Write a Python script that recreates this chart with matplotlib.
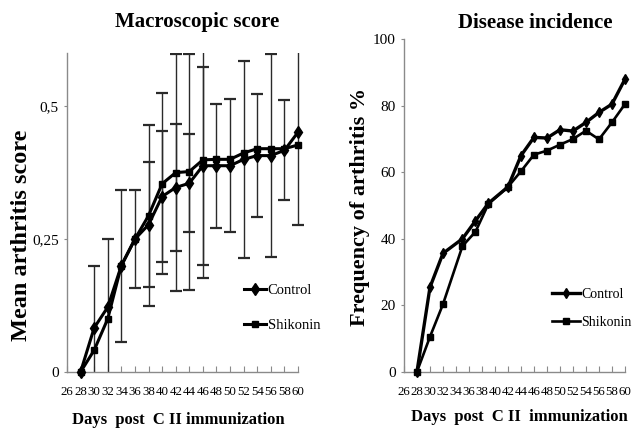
import numpy as np
import matplotlib
matplotlib.use("Agg")
import matplotlib.pyplot as plt
from matplotlib.transforms import Bbox, TransformedBbox

# ---------------- data ----------------
day_ticks = [26, 28, 30, 32, 34, 36, 38, 40, 42, 44, 46, 48, 50, 52, 54, 56, 58, 60]
day_tick_labels = [str(d) for d in day_ticks]

# left panel: macroscopic score
score_days = [28, 30, 32, 34, 36, 38, 40, 42, 44, 46, 48, 50, 52, 54, 56, 58, 60]
score_control = [0, 0.083, 0.122, 0.200, 0.250, 0.277, 0.330, 0.347, 0.355, 0.388,
                 0.388, 0.388, 0.400, 0.407, 0.407, 0.417, 0.451]
score_shikonin = [0, 0.041, 0.100, 0.200, 0.250, 0.294, 0.354, 0.375, 0.377, 0.399,
                  0.400, 0.400, 0.412, 0.420, 0.420, 0.420, 0.427]
err_control = [np.nan, 0.117, 0.128, 0.143, 0.092, 0.118, 0.123, 0.120, 0.092, 0.186,
               0.117, 0.125, 0.185, 0.116, 0.191, 0.094, 0.174]
err_shikonin = [np.nan, np.nan, np.nan, np.nan, np.nan, 0.170, 0.170, 0.223, 0.222, 0.223,
                np.nan, np.nan, np.nan, np.nan, np.nan, np.nan, np.nan]
score_yticks = [0, 0.25, 0.5]
score_ytick_labels = ["0", "0,25", "0,5"]

# right panel: disease incidence
inc_days = [28, 30, 32, 35, 37, 39, 42, 44, 46, 48, 50, 52, 54, 56, 58, 60]
inc_control = [0, 25.4, 35.6, 40.0, 45.4, 50.7, 55.6, 65.0, 70.5, 70.3, 72.8, 72.4,
               75.0, 78.0, 80.5, 88.0]
inc_shikonin = [0, 10.5, 20.3, 37.8, 42.1, 50.5, 55.6, 60.3, 65.3, 66.5, 68.3, 70.0,
                72.5, 69.9, 75.0, 80.5]
inc_yticks = [0, 20, 40, 60, 80, 100]

series_names = ["Control", "Shikonin"]

# ---------------- style ----------------
SERIF = ["Liberation Serif", "DejaVu Serif"]
plt.rcParams["font.family"] = SERIF
spine_col = "#8a8a8a"

fig = plt.figure(figsize=(6.33, 4.33), dpi=100)
fig.patch.set_facecolor("white")

axL = fig.add_axes([0.1058, 0.1409, 0.3650, 0.7367])
axR = fig.add_axes([0.6382, 0.1416, 0.3491, 0.7676])


def style_axes(ax):
    for s in ["top", "right"]:
        ax.spines[s].set_visible(False)
    for s in ["left", "bottom"]:
        ax.spines[s].set_color(spine_col)
        ax.spines[s].set_linewidth(1.0)
    ax.set_xlim(26, 60)
    ax.set_xticks(day_ticks)
    ax.set_xticklabels(day_tick_labels, fontsize=9.3)
    ax.tick_params(axis="x", direction="in", length=4, width=0.8, color=spine_col, pad=10)
    ax.tick_params(axis="y", direction="out", length=2, width=0.8, color=spine_col, pad=4,
                   labelsize=11)


# ----- left panel -----
style_axes(axL)
axL.set_ylim(0, 0.6)
axL.set_yticks(score_yticks)
axL.set_yticklabels(score_ytick_labels)

# clip error bars only at top/bottom of the plot area (allow the bar at x=60 to show fully)
clip_box = TransformedBbox(Bbox([[25.0, 0.0], [61.0, 0.6]]), axL.transData)

sd = np.array(score_days, dtype=float)
for vals, errs in [(score_control, err_control), (score_shikonin, err_shikonin)]:
    v = np.array(vals, dtype=float)
    e = np.array(errs, dtype=float)
    m = np.isfinite(e)
    cont = axL.errorbar(sd[m], v[m], yerr=e[m], fmt="none", ecolor="#2a2a2a",
                        elinewidth=1.0, capsize=4, capthick=1.6, zorder=2)
    for art in list(cont.lines[1]) + list(cont.lines[2]):
        art.set_clip_box(clip_box)

axL.plot(score_days, score_control, color="black", lw=2.2, marker="d", ms=6,
         mec="black", mfc="black", label=series_names[0], zorder=4, clip_on=False)
axL.plot(score_days, score_shikonin, color="black", lw=2.2, marker="s", ms=5,
         mec="black", mfc="black", label=series_names[1], zorder=3, clip_on=False)

axL.legend(loc="upper left", bbox_to_anchor=(0.385, 0.344), bbox_transform=fig.transFigure,
           frameon=False, fontsize=10.5, borderpad=0, labelspacing=1.45, handlelength=1.55,
           handletextpad=0.1, borderaxespad=0)

# ----- right panel -----
style_axes(axR)
axR.set_ylim(0, 100)
axR.set_yticks(inc_yticks)
axR.set_yticklabels([str(t) for t in inc_yticks])

axR.plot(inc_days, inc_control, color="black", lw=2.4, marker="d", ms=5,
         mec="black", mfc="black", label=series_names[0], zorder=4, clip_on=False)
axR.plot(inc_days, inc_shikonin, color="black", lw=1.9, marker="s", ms=4.5,
         mec="black", mfc="black", label=series_names[1], zorder=3, clip_on=False)

axR.legend(loc="upper left", bbox_to_anchor=(0.872, 0.335), bbox_transform=fig.transFigure,
           frameon=False, fontsize=10, borderpad=0, labelspacing=1.1, handlelength=2.0,
           handletextpad=0.1, borderaxespad=0)

# ----- titles / labels -----
fig.text(0.311, 0.949, "Macroscopic score", ha="center", va="center",
         fontsize=15, fontweight="bold")
fig.text(0.846, 0.947, "Disease incidence", ha="center", va="center",
         fontsize=15, fontweight="bold")
fig.text(0.282, 0.030, "Days  post  C II immunization", ha="center", va="center",
         fontsize=12, fontweight="bold")
fig.text(0.820, 0.038, "Days  post  C II  immunization", ha="center", va="center",
         fontsize=12, fontweight="bold")
fig.text(0.034, 0.457, "Mean arthritis score", ha="center", va="center", rotation=90,
         fontsize=17.5, fontweight="bold")
fig.text(0.569, 0.522, "Frequency of arthritis %", ha="center", va="center", rotation=90,
         fontsize=16, fontweight="bold")

fig.savefig("out.png", dpi=100, facecolor="white")
